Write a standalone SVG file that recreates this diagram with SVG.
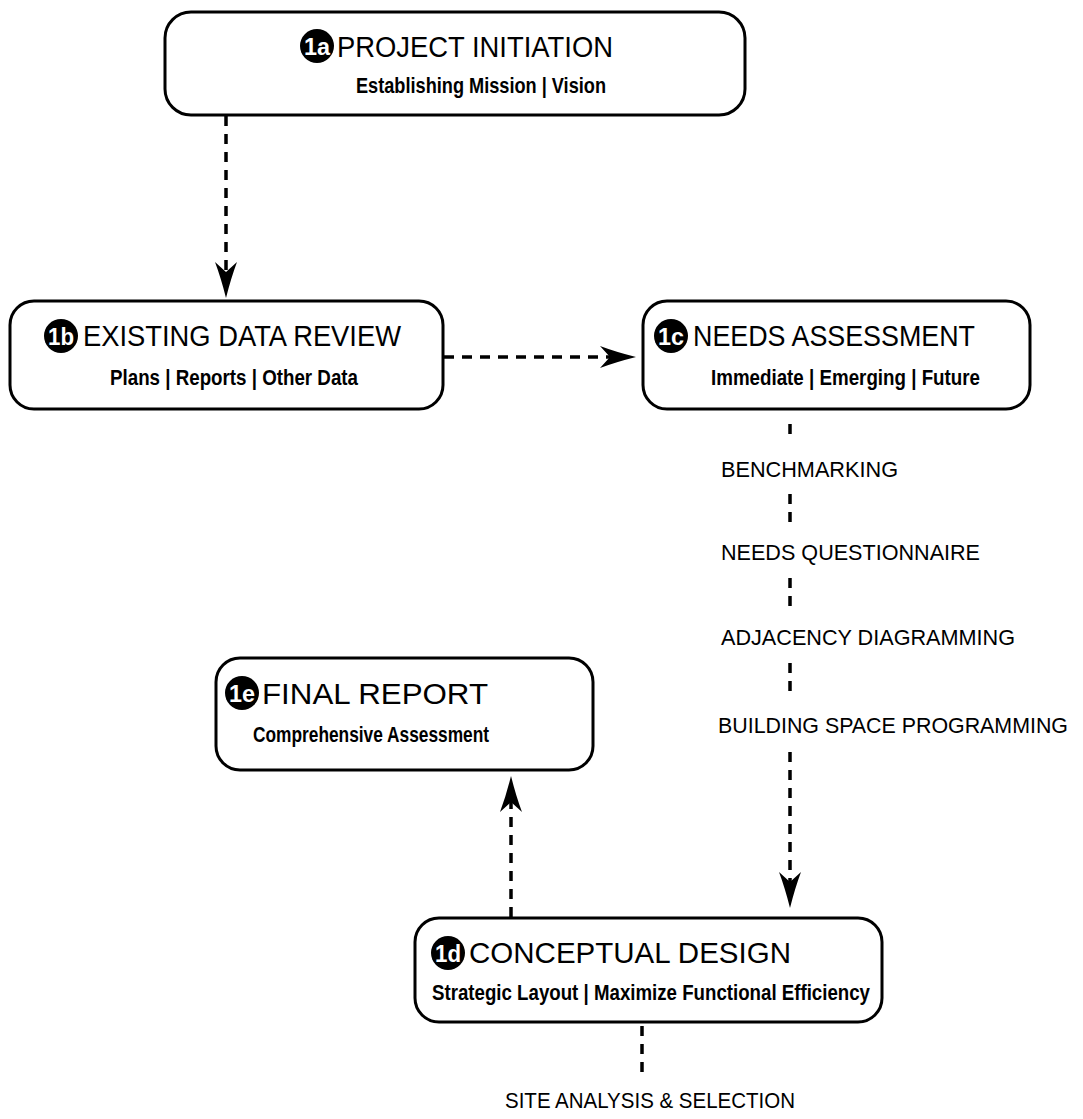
<svg xmlns="http://www.w3.org/2000/svg" width="1083" height="1119" viewBox="0 0 1083 1119">
<defs>
<style>
.box{fill:#fff;stroke:#000;stroke-width:3}
.badge{fill:#000}
.bt{fill:#fff;font-family:"Liberation Sans",Arial,sans-serif;font-weight:bold;font-size:24px;text-anchor:middle}
.title{fill:#000;font-family:"Liberation Sans",Arial,sans-serif;font-size:30px}
.sub{fill:#000;font-family:"Liberation Sans",Arial,sans-serif;font-weight:bold;font-size:22px}
.lbl{fill:#000;font-family:"Liberation Sans",Arial,sans-serif;font-size:22px}
.dash{fill:none;stroke:#000;stroke-width:3.5;stroke-dasharray:10 8}
</style>
<marker id="arr" markerUnits="userSpaceOnUse" viewBox="-12 -13 40 26" markerWidth="40" markerHeight="26" refX="0" refY="0" orient="auto" overflow="visible">
<path d="M-10,-11 Q6,-5 26,0 Q6,5 -10,11 L0,0 Z" fill="#000"/>
</marker>
</defs>
<rect width="1083" height="1119" fill="#fff"/>
<g id="connectors">
<line class="dash" x1="226" y1="116" x2="226" y2="272" marker-end="url(#arr)"/>
<line class="dash" x1="444" y1="357" x2="610" y2="357" marker-end="url(#arr)"/>
<line class="dash" x1="790" y1="424" x2="790" y2="436"/>
<line class="dash" x1="790" y1="494" x2="790" y2="522"/>
<line class="dash" x1="790" y1="578" x2="790" y2="606"/>
<line class="dash" x1="790" y1="663" x2="790" y2="691"/>
<line class="dash" x1="790" y1="752" x2="790" y2="882" marker-end="url(#arr)"/>
<line class="dash" x1="511" y1="917" x2="511" y2="802" marker-end="url(#arr)"/>
<line class="dash" x1="642" y1="1026" x2="642" y2="1072"/>
</g>
<g id="n1a">
<rect class="box" x="165" y="12" width="580" height="103" rx="26"/>
<circle class="badge" cx="317" cy="46" r="17"/>
<text class="bt" x="317" y="55" textLength="26" lengthAdjust="spacingAndGlyphs">1a</text>
<text class="title" x="337" y="57" textLength="276" lengthAdjust="spacingAndGlyphs">PROJECT INITIATION</text>
<text class="sub" x="356" y="93" textLength="250" lengthAdjust="spacingAndGlyphs">Establishing Mission | Vision</text>
</g>
<g id="n1b">
<rect class="box" x="10" y="301" width="433" height="108" rx="24"/>
<circle class="badge" cx="61" cy="336" r="17"/>
<text class="bt" x="61" y="345" textLength="26" lengthAdjust="spacingAndGlyphs">1b</text>
<text class="title" x="83" y="346" textLength="318" lengthAdjust="spacingAndGlyphs">EXISTING DATA REVIEW</text>
<text class="sub" x="110" y="385" textLength="248" lengthAdjust="spacingAndGlyphs">Plans | Reports | Other Data</text>
</g>
<g id="n1c">
<rect class="box" x="643" y="301" width="387" height="108" rx="24"/>
<circle class="badge" cx="671" cy="336" r="17"/>
<text class="bt" x="671" y="345" textLength="26" lengthAdjust="spacingAndGlyphs">1c</text>
<text class="title" x="693" y="346" textLength="282" lengthAdjust="spacingAndGlyphs">NEEDS ASSESSMENT</text>
<text class="sub" x="711" y="385" textLength="269" lengthAdjust="spacingAndGlyphs">Immediate | Emerging | Future</text>
</g>
<g id="n1e">
<rect class="box" x="216" y="658" width="377" height="112" rx="24"/>
<circle class="badge" cx="242" cy="693" r="17"/>
<text class="bt" x="242" y="702" textLength="26" lengthAdjust="spacingAndGlyphs">1e</text>
<text class="title" x="262" y="704" textLength="226" lengthAdjust="spacingAndGlyphs">FINAL REPORT</text>
<text class="sub" x="253" y="742" textLength="236" lengthAdjust="spacingAndGlyphs">Comprehensive Assessment</text>
</g>
<g id="n1d">
<rect class="box" x="415" y="918" width="467" height="104" rx="24"/>
<circle class="badge" cx="448" cy="953" r="17"/>
<text class="bt" x="448" y="962" textLength="26" lengthAdjust="spacingAndGlyphs">1d</text>
<text class="title" x="469" y="963" textLength="322" lengthAdjust="spacingAndGlyphs">CONCEPTUAL DESIGN</text>
<text class="sub" x="432" y="1000" textLength="438" lengthAdjust="spacingAndGlyphs">Strategic Layout | Maximize Functional Efficiency</text>
</g>
<g id="labels">
<text class="lbl" x="721" y="477" textLength="177" lengthAdjust="spacingAndGlyphs">BENCHMARKING</text>
<text class="lbl" x="721" y="560" textLength="259" lengthAdjust="spacingAndGlyphs">NEEDS QUESTIONNAIRE</text>
<text class="lbl" x="721" y="645" textLength="294" lengthAdjust="spacingAndGlyphs">ADJACENCY DIAGRAMMING</text>
<text class="lbl" x="718" y="733" textLength="350" lengthAdjust="spacingAndGlyphs">BUILDING SPACE PROGRAMMING</text>
<text class="lbl" x="650" y="1108" text-anchor="middle" textLength="290" lengthAdjust="spacingAndGlyphs">SITE ANALYSIS &amp; SELECTION</text>
</g>
</svg>
